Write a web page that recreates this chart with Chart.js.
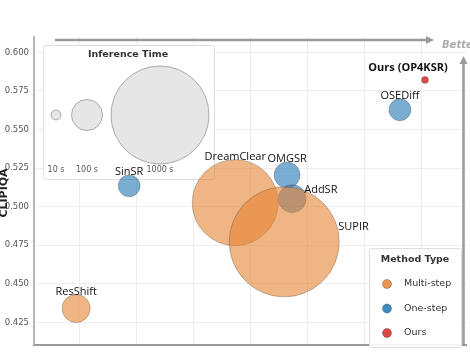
<!DOCTYPE html>
<html lang="en">
<head>
  <meta charset="UTF-8">
  <title>CLIPIQA vs inference time</title>
  <style>
    body {
      margin: 0;
      background: #fff;
    }
    #wrap {
      width: 470px;
      height: 355px;
    }
  </style>
  <script src="https://cdn.jsdelivr.net/npm/chart.js"></script>
</head>
<body>
  <div id="wrap"><canvas id="chart" width="470" height="355"></canvas></div>

  <script>
    // multi-step methods
    const multiNames = ['ResShift', 'DreamClear', 'SUPIR'];
    const multiX = [0.95, 3.74, 4.60];
    const multiY = [0.4340, 0.5026, 0.4772];
    const multiTime = [82, 770, 1260];

    // one-step methods
    const oneNames = ['SinSR', 'OMGSR', 'AddSR', 'OSEDiff'];
    const oneX = [1.88, 4.65, 4.74, 6.63];
    const oneY = [0.5135, 0.5205, 0.5052, 0.5628];
    const oneTime = [50, 70, 82, 50];

    // ours
    const oursNames = ['Ours (OP4KSR)'];
    const oursX = [7.07];
    const oursY = [0.5822];
    const oursTime = [5];

    const yTicks = [0.425, 0.450, 0.475, 0.500, 0.525, 0.550, 0.575, 0.600];
    const xGrid = [1, 2, 3, 4, 5, 6, 7];
    const sizeTimes = [10, 100, 1000];
    const sizeLabels = ['10 s', '100 s', '1000 s'];
    const typeLabels = ['Multi-step', 'One-step', 'Ours'];

    // bubble area proportional to time
    const rOf = t => 1.55 * Math.sqrt(t);

    function points(xs, ys, ts) {
      return xs.map((x, i) => ({ x: x, y: ys[i], r: rOf(ts[i]) }));
    }

    const ORANGE = 'rgba(230,132,50,0.6)';
    const BLUE = 'rgba(31,119,180,0.6)';
    const RED = 'rgba(214,39,40,0.85)';

    // where each label sits relative to its bubble
    const labelPlace = {
      'ResShift': { pos: 'top' },
      'DreamClear': { pos: 'top' },
      'SinSR': { pos: 'top' },
      'OMGSR': { pos: 'top' },
      'OSEDiff': { pos: 'top' },
      'AddSR': { pos: 'right', dx: 12, dy: -9 },
      'SUPIR': { pos: 'right', dx: 54, dy: -15 },
      'Ours (OP4KSR)': { pos: 'center', dx: -17, dy: -12, bold: true }
    };

    function arrowHead(ctx, x, y, dir) {
      ctx.beginPath();
      if (dir === 'right') {
        ctx.moveTo(x + 6, y);
        ctx.lineTo(x - 2, y - 4);
        ctx.lineTo(x - 2, y + 4);
      } else {
        ctx.moveTo(x, y - 6);
        ctx.lineTo(x - 4, y + 2);
        ctx.lineTo(x + 4, y + 2);
      }
      ctx.closePath();
      ctx.fill();
    }

    function box(ctx, x, y, w, h) {
      ctx.save();
      ctx.fillStyle = 'rgba(255,255,255,0.9)';
      ctx.strokeStyle = '#dddddd';
      ctx.lineWidth = 1;
      ctx.beginPath();
      ctx.roundRect(x + 0.5, y + 0.5, w, h, 2);
      ctx.fill();
      ctx.stroke();
      ctx.restore();
    }

    const overlay = {
      id: 'overlay',
      beforeDatasetsDraw(chart) {
        const ctx = chart.ctx;
        // inference time size legend
        box(ctx, 43, 45, 171, 134);
        ctx.save();
        ctx.fillStyle = '#333';
        ctx.font = 'bold 9.5px "DejaVu Sans"';
        ctx.textAlign = 'center';
        ctx.textBaseline = 'middle';
        ctx.fillText('Inference Time', 128, 55);
        const cx = [56, 87, 160];
        sizeTimes.forEach((t, i) => {
          ctx.beginPath();
          ctx.arc(cx[i], 115, rOf(t), 0, Math.PI * 2);
          ctx.fillStyle = '#e6e6e6';
          ctx.fill();
          ctx.strokeStyle = '#8c8c8c';
          ctx.lineWidth = 0.7;
          ctx.stroke();
          ctx.fillStyle = '#555';
          ctx.font = '8px "DejaVu Sans"';
          ctx.fillText(sizeLabels[i], cx[i], 170);
        });
        ctx.restore();
      },
      afterDatasetsDraw(chart) {
        const ctx = chart.ctx;
        ctx.save();

        // point labels
        chart.data.datasets.forEach((ds, di) => {
          const meta = chart.getDatasetMeta(di);
          ds.names.forEach((name, i) => {
            const el = meta.data[i];
            const r = ds.data[i].r;
            const p = labelPlace[name];
            ctx.fillStyle = '#111';
            ctx.font = (p.bold ? 'bold ' : '') + '11px "Open Sans"';
            ctx.textBaseline = 'middle';
            if (p.pos === 'top') {
              ctx.textAlign = 'center';
              ctx.fillText(name, el.x, el.y - r - 3);
            } else if (p.pos === 'right') {
              ctx.textAlign = 'left';
              ctx.fillText(name, el.x + p.dx, el.y + p.dy);
            } else {
              ctx.textAlign = 'center';
              ctx.fillText(name, el.x + p.dx, el.y + p.dy);
            }
          });
        });

        // "better" arrows
        ctx.strokeStyle = '#9a9a9a';
        ctx.fillStyle = '#9a9a9a';
        ctx.lineWidth = 2.5;
        ctx.beginPath();
        ctx.moveTo(55, 40);
        ctx.lineTo(428, 40);
        ctx.stroke();
        arrowHead(ctx, 428, 40, 'right');
        ctx.beginPath();
        ctx.moveTo(463.5, 345);
        ctx.lineTo(463.5, 63);
        ctx.stroke();
        arrowHead(ctx, 463.5, 62, 'up');
        ctx.fillStyle = '#ababab';
        ctx.font = 'italic bold 10px "DejaVu Sans"';
        ctx.textAlign = 'left';
        ctx.textBaseline = 'middle';
        ctx.fillText('Better', 442, 45);

        // method type legend
        box(ctx, 369, 248, 92, 99);
        ctx.fillStyle = '#333';
        ctx.font = 'bold 9.5px "DejaVu Sans"';
        ctx.textAlign = 'center';
        ctx.fillText('Method Type', 415, 260);
        const cols = ['rgba(230,132,50,0.85)', 'rgba(31,119,180,0.85)', RED];
        typeLabels.forEach((lab, i) => {
          const y = 284 + i * 24.5;
          ctx.beginPath();
          ctx.arc(387, y, 4.5, 0, Math.PI * 2);
          ctx.fillStyle = cols[i];
          ctx.fill();
          ctx.strokeStyle = 'rgba(60,60,60,0.6)';
          ctx.lineWidth = 0.6;
          ctx.stroke();
          ctx.fillStyle = '#333';
          ctx.font = '9.5px "DejaVu Sans"';
          ctx.textAlign = 'left';
          ctx.fillText(lab, 404, y);
        });

        // y axis title (partly off the left edge)
        ctx.translate(7, 193);
        ctx.rotate(-Math.PI / 2);
        ctx.fillStyle = '#222';
        ctx.font = 'bold 11px "DejaVu Sans"';
        ctx.textAlign = 'center';
        ctx.textBaseline = 'alphabetic';
        ctx.fillText('CLIPIQA', 0, 0);
        ctx.restore();
      }
    };

    const edge = 'rgba(90,80,70,0.5)';

    new Chart(document.getElementById('chart'), {
      type: 'bubble',
      data: {
        datasets: [
          { label: 'Multi-step', names: multiNames, data: points(multiX, multiY, multiTime),
            backgroundColor: ORANGE, borderColor: edge, borderWidth: 0.7 },
          { label: 'One-step', names: oneNames, data: points(oneX, oneY, oneTime),
            backgroundColor: BLUE, borderColor: edge, borderWidth: 0.7 },
          { label: 'Ours', names: oursNames, data: points(oursX, oursY, oursTime),
            backgroundColor: RED, borderColor: edge, borderWidth: 0.7 }
        ]
      },
      options: {
        responsive: false,
        animation: false,
        events: [],
        layout: { autoPadding: false, padding: { top: 37, right: 4, bottom: 0, left: 0 } },
        plugins: {
          legend: { display: false },
          tooltip: { enabled: false }
        },
        scales: {
          x: {
            type: 'linear',
            min: 0.2105,
            max: 7.789,
            afterBuildTicks: s => { s.ticks = xGrid.map(v => ({ value: v })); },
            afterFit: s => { s.height = 4; },
            ticks: { display: false },
            grid: { color: '#ededed', drawTicks: false },
            border: { color: '#999', width: 2 }
          },
          y: {
            min: 0.4104,
            max: 0.610,
            afterBuildTicks: s => { s.ticks = yTicks.map(v => ({ value: v })); },
            afterFit: s => { s.width = 34; },
            ticks: {
              padding: 5,
              color: '#555',
              font: { family: 'DejaVu Sans', size: 8.5 },
              callback: v => v.toFixed(3)
            },
            grid: { color: '#ededed', drawTicks: false },
            border: { color: '#b5b5b5', width: 2 }
          }
        }
      },
      plugins: [overlay]
    });
  </script>
</body>
</html>
